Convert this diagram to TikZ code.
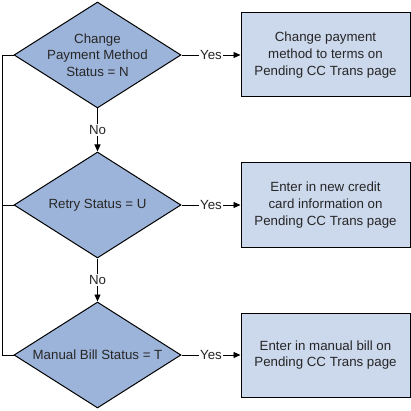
\documentclass[tikz,border=0pt]{standalone}
\usepackage{fontspec}
\setmainfont{Liberation Sans}
\usetikzlibrary{shapes.geometric,arrows.meta}

\definecolor{decfill}{RGB}{157,180,218}
\definecolor{actfill}{RGB}{204,216,236}

\tikzstyle{decision}=[diamond,draw,line width=1pt,fill=decfill,minimum width=167pt,minimum height=106pt,shape aspect=1.575,inner xsep=-20pt,inner ysep=-10pt,align=center,font=\fontsize{13.3}{16.7}\selectfont,text=black!85]
\tikzstyle{action}=[rectangle,draw,line width=1pt,fill=actfill,minimum width=169pt,minimum height=84pt,inner sep=0pt,align=center,font=\fontsize{13.3}{16.7}\selectfont,text=black!85]
\tikzstyle{flow} = [draw,line width=0.9pt,-{Triangle[length=7pt,width=6pt]}]
\tikzstyle{answer} = [fill=white,inner sep=1.5pt,font=\fontsize{13.3}{15}\selectfont,text=black!85]

\begin{document}
\begin{tikzpicture}[x=1pt,y=-1pt]
		\useasboundingbox (0,0) rectangle (411,411);
		\node[decision] (d1) at (97.5,55) {Change\\Payment Method\\Status = N};
		\node[decision] (d2) at (97.5,205) {Retry Status = U};
		\node[decision] (d3) at (97.5,355) {Manual Bill Status = T};
		\node[action] (a1) at (325.5,55) {Change payment\\method to terms on\\Pending CC Trans page};
		\node[action] (a2) at (325.5,205) {Enter in new credit\\card information on\\Pending CC Trans page};
		\node[action] (a3) at (325.5,355) {Enter in manual bill on\\Pending CC Trans page};
		\coordinate (bar) at (2.5,0);
    		% Yes branches to the actions
   		\foreach \source/ \dest in {d1/a1, d2/a2, d3/a3}
        		\path[flow] (\source) -- node[answer] {Yes} (\dest);
   		 % No branches down the chain
   		\foreach \source/ \dest in {d1/d2, d2/d3}
        		\path[flow] (\source) -- node[answer] {No} (\dest);
		% Left bar joining the decisions
		\draw[line width=0.9pt] (d1.west) -- (d1.west -| bar) -- (d3.west -| bar) -- (d3.west);
		\draw[line width=0.9pt] (d2.west) -- (d2.west -| bar);
\end{tikzpicture}
\end{document}
